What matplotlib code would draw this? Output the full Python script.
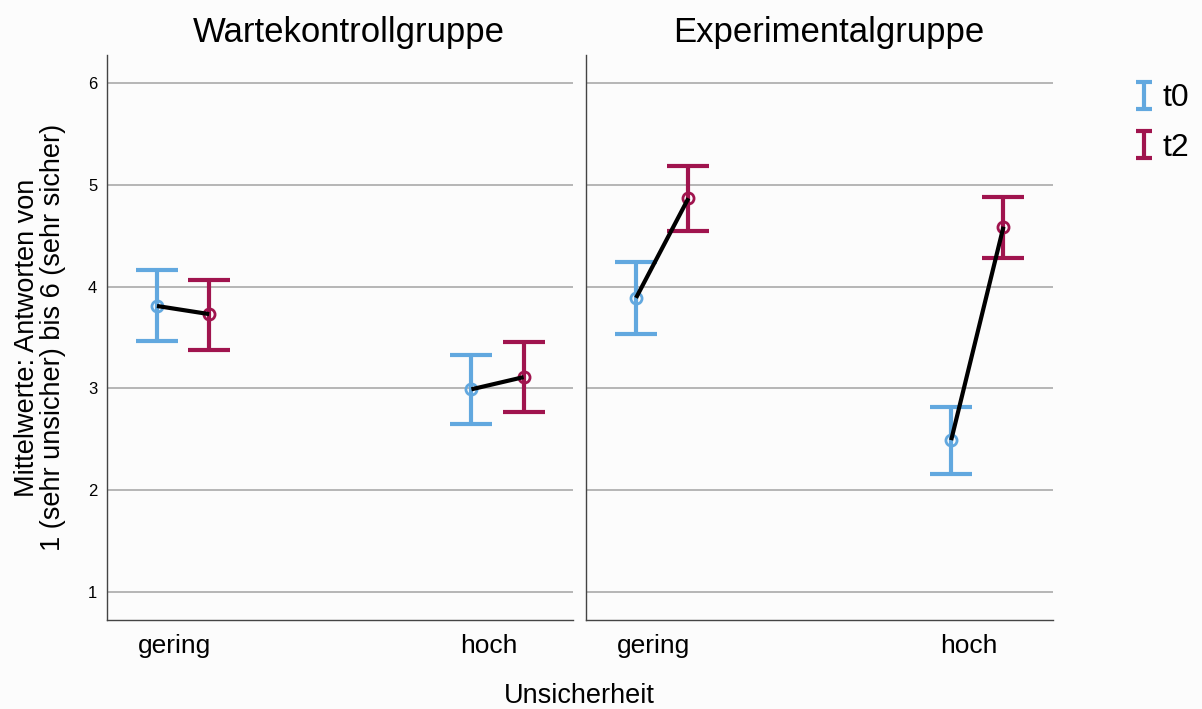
import matplotlib.pyplot as plt
import matplotlib.transforms as mtransforms
from matplotlib.legend_handler import HandlerErrorbar
import numpy as np

plt.rcParams['font.family'] = ['Liberation Sans', 'DejaVu Sans']

panels = ["Wartekontrollgruppe", "Experimentalgruppe"]
categories = ["gering", "hoch"]
times = ["t0", "t2"]

# means, upper and lower CI bounds: [panel][time][category]
means = {
    "Wartekontrollgruppe": {"t0": [3.81, 2.99], "t2": [3.73, 3.11]},
    "Experimentalgruppe": {"t0": [3.89, 2.49], "t2": [4.87, 4.59]},
}
upper = {
    "Wartekontrollgruppe": {"t0": [4.16, 3.33], "t2": [4.07, 3.46]},
    "Experimentalgruppe": {"t0": [4.24, 2.82], "t2": [5.19, 4.88]},
}
lower = {
    "Wartekontrollgruppe": {"t0": [3.47, 2.65], "t2": [3.38, 2.77]},
    "Experimentalgruppe": {"t0": [3.53, 2.16], "t2": [4.55, 4.28]},
}
colors = {"t0": "#62A8DF", "t2": "#A0144E"}
offsets = {"t0": -0.083, "t2": 0.083}
bg = "#FCFCFC"

fig = plt.figure(figsize=(12.02, 7.09), dpi=100)
fig.patch.set_facecolor(bg)
ax1 = fig.add_axes([0.089, 0.1255, 0.3877, 0.797])
ax2 = fig.add_axes([0.4875, 0.1255, 0.3885, 0.797], sharey=ax1)

for ax, panel in zip([ax1, ax2], panels):
    ax.set_facecolor(bg)
    x = np.arange(len(categories))
    for t in times:
        m = np.array(means[panel][t])
        up = np.array(upper[panel][t])
        lo = np.array(lower[panel][t])
        xs = x + offsets[t]
        ax.errorbar(xs, m, yerr=[m - lo, up - m], fmt='none', ecolor=colors[t],
                    elinewidth=3, capsize=15, capthick=3, zorder=3)
        ax.plot(xs, m, 'o', ms=8, mfc='none', mec=colors[t], mew=2, zorder=4)
    for i in range(len(categories)):
        ax.plot([x[i] + offsets["t0"], x[i] + offsets["t2"]],
                [means[panel]["t0"][i], means[panel]["t2"][i]],
                color='black', lw=3, zorder=5, solid_capstyle='butt')
    ax.set_xlim(-0.242, 1.24)
    ax.set_ylim(0.72, 6.28)
    ax.set_yticks([1, 2, 3, 4, 5, 6])
    ax.yaxis.grid(True, color='#AAAAAA', lw=1.2)
    ax.set_axisbelow(True)
    ax.set_xticks(x)
    ax.set_xticklabels(categories, fontsize=19)
    ax.tick_params(axis='both', length=0)
    ax.tick_params(axis='x', pad=10)
    shift = mtransforms.ScaledTranslation(-0.09, 0, fig.dpi_scale_trans)
    for lbl in ax.get_xticklabels():
        lbl.set_transform(lbl.get_transform() + shift)
    for s in ['top', 'right']:
        ax.spines[s].set_visible(False)
    for s in ['left', 'bottom']:
        ax.spines[s].set_color('#444444')
        ax.spines[s].set_linewidth(1)
    ax.set_title(panel, fontsize=25, pad=9, x=0.52)

ax1.tick_params(axis='y', labelsize=12, pad=7)
ax2.tick_params(axis='y', labelleft=False)
ax1.set_ylabel("Mittelwerte: Antworten von\n1 (sehr unsicher) bis 6 (sehr sicher)",
               fontsize=19.5, labelpad=16, linespacing=1.0)
fig.text(0.482, 0.0, "Unsicherheit", fontsize=19.5, ha='center', va='bottom')

# legend proxies
proxies = []
for t in times:
    p = ax1.errorbar([np.nan], [np.nan], yerr=[[1], [1]], fmt='none', ecolor=colors[t],
                     elinewidth=3, capsize=5.5, capthick=3)
    proxies.append(p)
fig.legend(proxies, times, loc='upper left',
           bbox_to_anchor=(0.921, 0.923), frameon=False, fontsize=23,
           handlelength=0.5, handletextpad=0.35, labelspacing=0.6,
           handler_map={type(proxies[0]): HandlerErrorbar(yerr_size=0.42)})

fig.savefig("out.png", dpi=100, facecolor=fig.get_facecolor())
